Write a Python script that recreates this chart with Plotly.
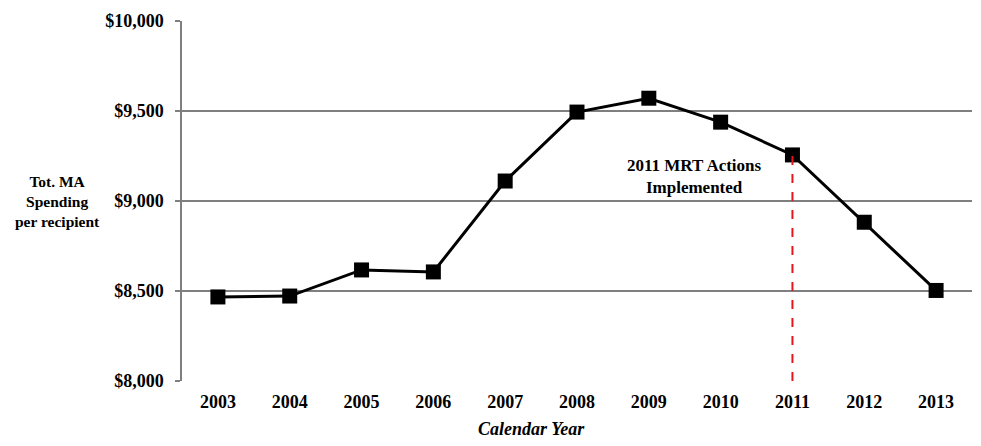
import plotly.graph_objects as go

years = ["2003", "2004", "2005", "2006", "2007", "2008",
         "2009", "2010", "2011", "2012", "2013"]
spending = [8467, 8472, 8617, 8606, 9111, 9494, 9571, 9438, 9256, 8882, 8503]

y_ticks = [8000, 8500, 9000, 9500, 10000]
y_labels = ["$8,000", "$8,500", "$9,000", "$9,500", "$10,000"]

mrt_year = "2011"
mrt_value = spending[years.index(mrt_year)]

serif = "Liberation Serif, Times New Roman, serif"

fig = go.Figure()

fig.add_trace(go.Scatter(
    x=years, y=spending,
    mode="lines+markers",
    line=dict(color="black", width=3),
    marker=dict(symbol="square", size=15, color="black"),
    showlegend=False,
))

# red dashed marker line for 2011
fig.add_trace(go.Scatter(
    x=[mrt_year, mrt_year], y=[8000, mrt_value],
    mode="lines",
    line=dict(color="#e8141c", width=2, dash="dash"),
    hoverinfo="skip", showlegend=False,
))

fig.add_annotation(
    x=0.649, y=9135, xref="paper", yref="y",
    text="<b>2011 MRT Actions<br>Implemented</b>",
    showarrow=False, font=dict(family=serif, size=17, color="black"),
    align="center", xanchor="center", yanchor="middle",
)

fig.add_annotation(
    x=-0.157, y=9000, xref="paper", yref="y",
    text="<b>Tot. MA<br>Spending<br>per recipient</b>",
    showarrow=False, font=dict(family=serif, size=15.5, color="black"),
    align="center", xanchor="center", yanchor="middle",
)

fig.add_annotation(
    x=0.443, y=-0.133, xref="paper", yref="paper",
    text="<b><i>Calendar Year</i></b>",
    showarrow=False, font=dict(family=serif, size=18, color="black"),
    xanchor="center", yanchor="middle",
)

# page body has an 8px margin, so the figure is sized to fit inside it
fig.update_layout(
    width=965, height=430,
    margin=dict(l=174, r=1, t=13, b=57),
    plot_bgcolor="white", paper_bgcolor="white",
    font=dict(family=serif, color="black"),
)

fig.update_xaxes(
    type="category", categoryorder="array", categoryarray=years,
    range=[-0.5, 10.5], automargin=False,
    showgrid=False, showline=False, zeroline=False,
    ticks="", tickfont=dict(family=serif, size=18, color="black"),
    tickprefix="<b>", ticksuffix="</b>", ticklabelstandoff=8,
)

fig.update_yaxes(
    range=[8000, 10000], tickvals=y_ticks, automargin=False,
    ticktext=["<b>" + t + "</b>" for t in y_labels],
    showgrid=True, gridcolor="#7f7f7f", gridwidth=1.5,
    showline=True, linecolor="#7f7f7f", linewidth=1.5,
    ticks="outside", ticklen=5, tickcolor="#7f7f7f", tickwidth=1.5,
    zeroline=False, ticklabelstandoff=8,
    tickfont=dict(family=serif, size=18, color="black"),
)

fig.write_html("out.html")
